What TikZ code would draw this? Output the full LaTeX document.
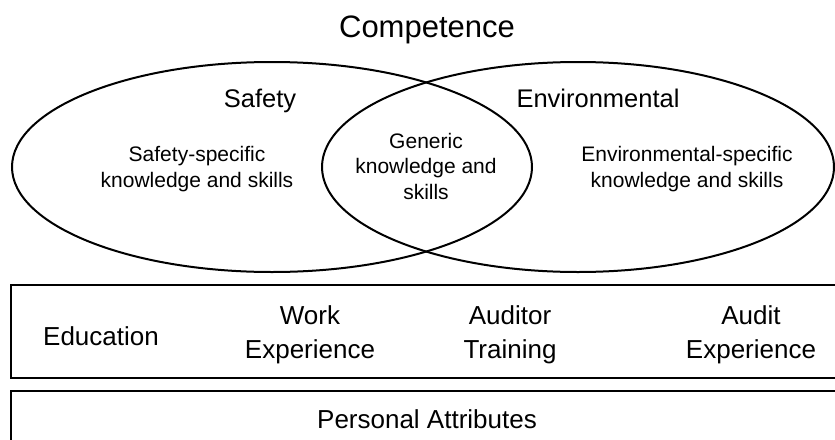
\documentclass[tikz,border=0pt]{standalone}
\usepackage{fontspec}
\setmainfont{Liberation Sans}
\begin{document}
\begin{tikzpicture}[x=1pt,y=-1pt,
  outline/.style={draw=black,line width=2pt},
  lbl/.style={inner sep=0pt,outer sep=0pt,anchor=base,align=center},
  ftitle/.style={font=\fontsize{31}{37}\selectfont},
  fhead/.style={font=\fontsize{25.5}{30}\selectfont},
  finner/.style={font=\fontsize{21}{25.5}\selectfont},
  fbox/.style={font=\fontsize{26}{34}\selectfont}]
\clip (0,0) rectangle (835,439);
\fill[white] (0,0) rectangle (835,439);
% Venn ellipses
\draw[outline] (272,167) ellipse [x radius=260, y radius=105];
\draw[outline] (578,167) ellipse [x radius=256, y radius=105];
% boxes
\draw[outline] (11,285) rectangle (850,378);
\draw[outline] (11,391) rectangle (850,460);
% texts (anchor = baseline of the last line)
\node[lbl,ftitle] (title) at (427,37) {Competence};
\node[lbl,fhead] (safety) at (260,107) {Safety};
\node[lbl,fhead] (env) at (598,107) {Environmental};
\node[lbl,finner] (safespec) at (197,187) {Safety-specific\\knowledge and skills};
\node[lbl,finner] (envspec) at (687,187) {Environmental-specific\\knowledge and skills};
\node[lbl,finner] (generic) at (426,199) {Generic\\knowledge and\\skills};
\node[lbl,fbox] (edu) at (101,345) {Education};
\node[lbl,fbox] (work) at (310,358) {Work\\Experience};
\node[lbl,fbox] (auditor) at (510,358) {Auditor\\Training};
\node[lbl,fbox] (auditexp) at (751,358) {Audit\\Experience};
\node[lbl,fbox] (personal) at (427,428) {Personal Attributes};
\end{tikzpicture}
\end{document}
